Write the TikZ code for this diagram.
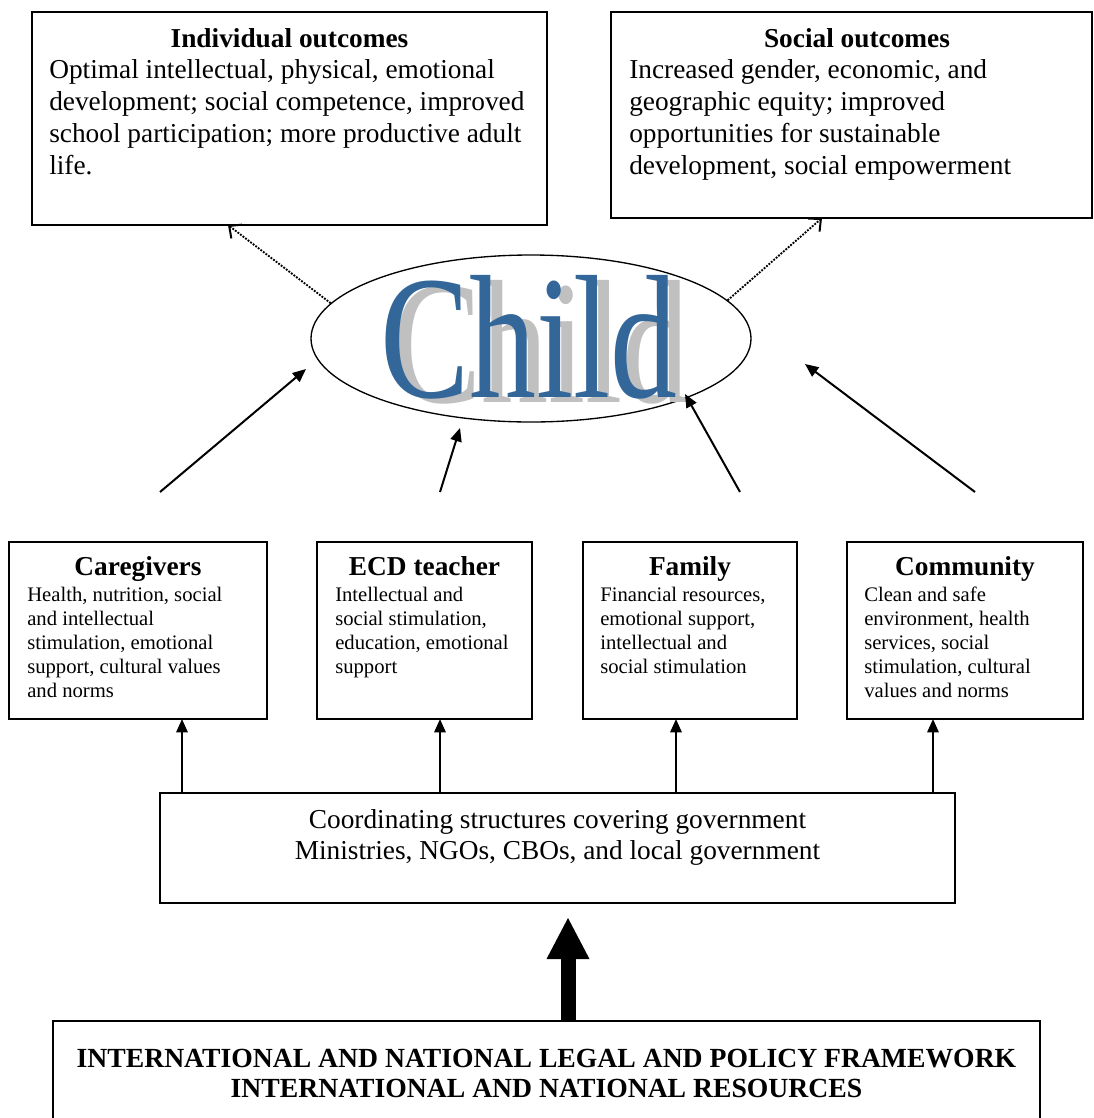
\documentclass[tikz,border=0pt]{standalone}
\usepackage{fontspec}
\setmainfont{Liberation Serif}
\usetikzlibrary{arrows.meta,shapes.geometric,calc}
\definecolor{childblue}{RGB}{51,102,153}
\definecolor{shadowgray}{RGB}{192,192,192}
\begin{document}
\begin{tikzpicture}[x=0.75pt,y=-0.75pt,
  box/.style={draw, line width=1pt, inner sep=0pt, outer sep=0pt, anchor=north west},
  hd/.style={font=\fontsize{20.5pt}{24pt}\selectfont\bfseries, inner sep=0pt, anchor=base},
  bigbody/.style={font=\fontsize{20.5pt}{24pt}\selectfont, inner sep=0pt, anchor=base west},
  smallbody/.style={font=\fontsize{15.5pt}{18pt}\selectfont, inner sep=0pt, anchor=base west},
  childword/.style={font=\fontsize{132pt}{132pt}\selectfont, inner sep=0pt, anchor=base},
  arr/.style={line width=1.5pt, -{Triangle[length=10pt,width=8.5pt]}},
  dotarr/.style={line width=1.4pt, dash pattern=on 1.4pt off 1pt, -{Straight Barb[length=7pt,width=13pt,line width=1.5pt]}},
  bigarr/.style={line width=11.25pt, -{Triangle[length=30.75pt,width=32.25pt,line width=0pt]}},
]
\fill[white] (0,0) rectangle (1093,1118);
\useasboundingbox (0,0) rectangle (1093,1118);

% outcome boxes
\node[box, minimum width={515*0.75pt}, minimum height={213*0.75pt}] (indiv) at (32,12) {};
\node[hd] (indivhead) at ($(indiv.north)+(0,35)$) {Individual outcomes};
\node[bigbody] (indivtext) at ($(indiv.north west)+(17,66)$) {\parbox[t]{380pt}{\raggedright Optimal intellectual, physical, emotional\\development; social competence, improved\\school participation; more productive adult\\life.}};

\node[box, minimum width={481*0.75pt}, minimum height={206*0.75pt}] (social) at (611,12) {};
\node[hd] (socialhead) at (857,47) {Social outcomes};
\node[bigbody] (socialtext) at ($(social.north west)+(18,66)$) {\parbox[t]{350pt}{\raggedright Increased gender, economic, and\\geographic equity; improved\\opportunities for sustainable\\development, social empowerment}};

% child
\node[draw, ellipse, line width=1pt, minimum width={440*0.75pt}, minimum height={167*0.75pt}, inner sep=0pt] (child) at (531,338.5) {};
\node[childword, text=shadowgray] (childshadow) at (541,402) {\scalebox{0.76}[1]{Child}};
\node[childword, text=childblue] (childtext) at (529,397) {\scalebox{0.76}[1]{Child}};

% actor boxes
\node[box, minimum width={258*0.75pt}, minimum height={177*0.75pt}] (care) at (9,542) {};
\node[hd] (carehead) at ($(care.north)+(0,33)$) {Caregivers};
\node[smallbody] (caretext) at ($(care.north west)+(18,59)$) {\parbox[t]{190pt}{\raggedright Health, nutrition, social\\and intellectual\\stimulation, emotional\\support, cultural values\\and norms}};

\node[box, minimum width={215*0.75pt}, minimum height={177*0.75pt}] (ecd) at (317,542) {};
\node[hd] (ecdhead) at ($(ecd.north)+(0,33)$) {ECD teacher};
\node[smallbody] (ecdtext) at ($(ecd.north west)+(18,59)$) {\parbox[t]{160pt}{\raggedright Intellectual and\\social stimulation,\\education, emotional\\support}};

\node[box, minimum width={214*0.75pt}, minimum height={177*0.75pt}] (fam) at (583,542) {};
\node[hd] (famhead) at ($(fam.north)+(0,33)$) {Family};
\node[smallbody] (famtext) at ($(fam.north west)+(17,59)$) {\parbox[t]{160pt}{\raggedright Financial resources,\\emotional support,\\intellectual and\\social stimulation}};

\node[box, minimum width={236*0.75pt}, minimum height={177*0.75pt}] (comm) at (847,542) {};
\node[hd] (commhead) at ($(comm.north)+(0,33)$) {Community};
\node[smallbody] (commtext) at ($(comm.north west)+(17,59)$) {\parbox[t]{175pt}{\raggedright Clean and safe\\environment, health\\services, social\\stimulation, cultural\\values and norms}};

% coordinating box
\node[box, minimum width={795*0.75pt}, minimum height={110*0.75pt}] (coord) at (160,793) {};
\node[font=\fontsize{20.5pt}{23.25pt}\selectfont, inner sep=0pt, anchor=base] (coordtext) at (557.5,828) {\parbox[t]{560pt}{\centering Coordinating structures covering government\\Ministries, NGOs, CBOs, and local government}};

% framework box
\node[box, minimum width={987*0.75pt}, minimum height={130*0.75pt}] (frame) at (53,1021) {};
\node[font=\fontsize{20.75pt}{22.5pt}\selectfont\bfseries, inner sep=0pt, anchor=base] (frametext) at (546.5,1067) {\parbox[t]{730pt}{\centering INTERNATIONAL AND NATIONAL LEGAL AND POLICY FRAMEWORK\\INTERNATIONAL AND NATIONAL RESOURCES}};

% arrows to child
\coordinate (cgfrom) at (160,492); \coordinate (cgto) at (306,369);
\coordinate (ecdfrom) at (440,492); \coordinate (ecdto) at (460,428);
\coordinate (famfrom) at (740,492); \coordinate (famto) at (685,394);
\coordinate (comfrom) at (975,492); \coordinate (comto) at (805,364);
\draw[arr] (cgfrom) -- (cgto);
\draw[arr] (ecdfrom) -- (ecdto);
\draw[arr] (famfrom) -- (famto);
\draw[arr] (comfrom) -- (comto);

% dotted arrows to outcomes
\draw[dotarr] (child.170) -- ($(indiv.south west)+(196,0)$);
\draw[dotarr] (child.11) -- ($(social.south west)+(211,0)$);

% arrows from coordinating box
\draw[arr] ($(coord.north west)+(22,0)$) -- ($(care.south west)+(173,0)$);
\draw[arr] ($(coord.north west)+(280,0)$) -- ($(ecd.south west)+(123,0)$);
\draw[arr] ($(coord.north west)+(516,0)$) -- ($(fam.south west)+(93,0)$);
\draw[arr] ($(coord.north west)+(773,0)$) -- ($(comm.south west)+(86,0)$);

% big arrow
\draw[bigarr] ($(frame.north west)+(515,0)$) -- ($(coord.south west)+(408,15)$);
\end{tikzpicture}
\end{document}
